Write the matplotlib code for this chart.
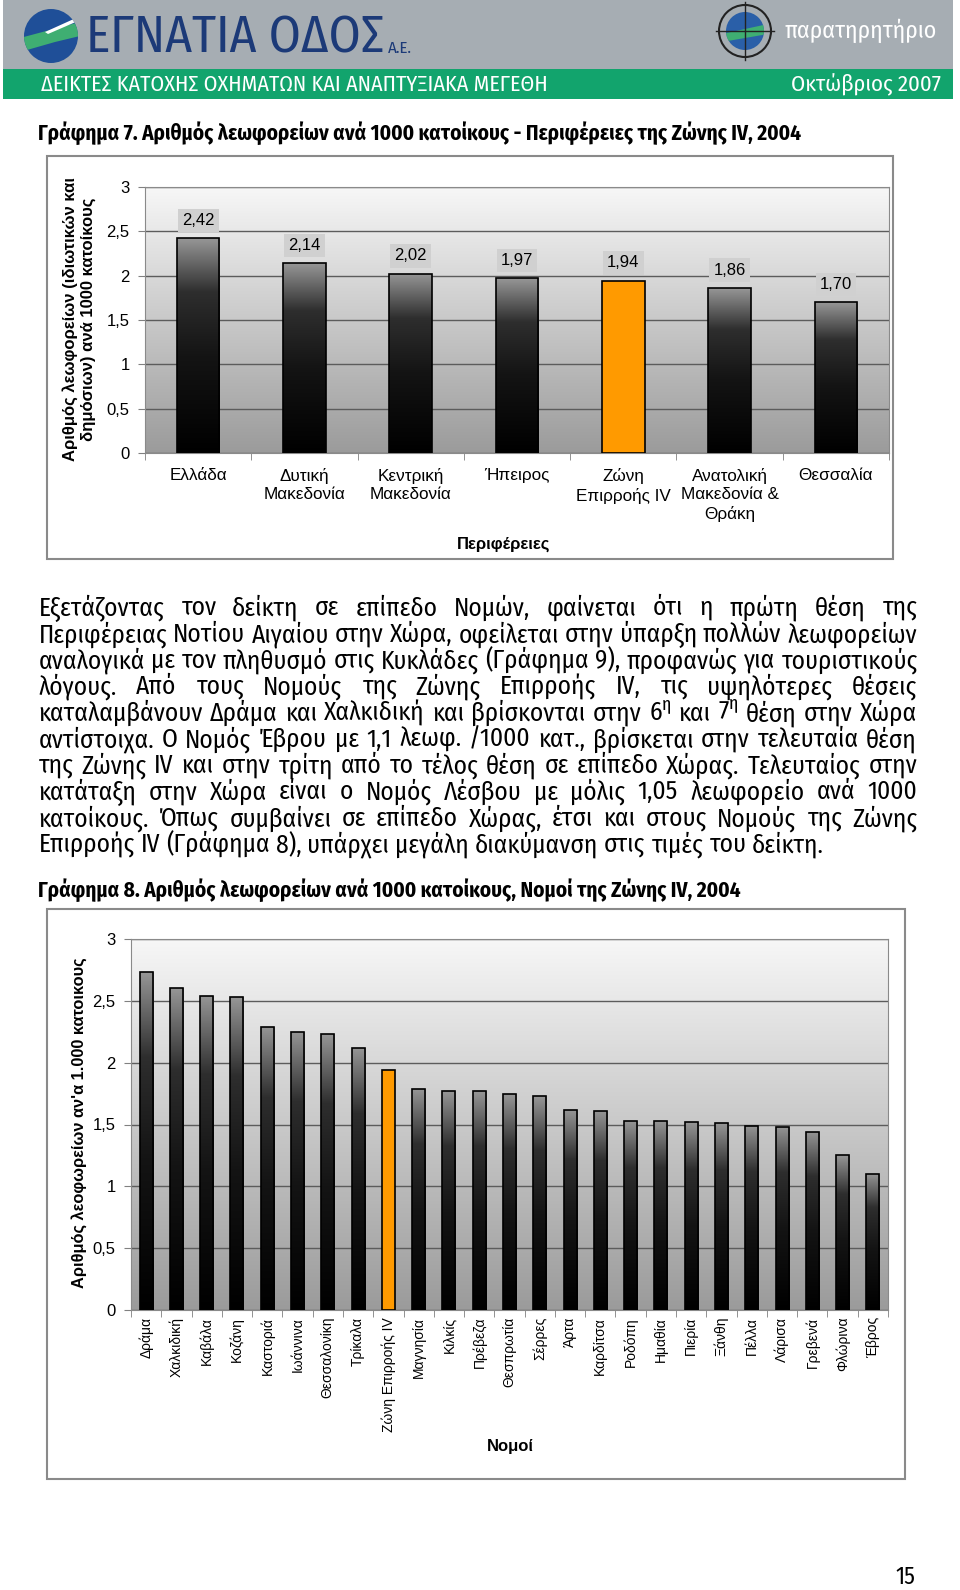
import numpy as np
import matplotlib
matplotlib.use('Agg')
import matplotlib.pyplot as plt
from matplotlib import font_manager
from matplotlib.colors import LinearSegmentedColormap
from matplotlib.patches import Rectangle, Circle, Polygon
from matplotlib.ticker import FuncFormatter

# --- data -------------------------------------------------------------
regions = ['Ελλάδα', 'Δυτική\nΜακεδονία', 'Κεντρική\nΜακεδονία', 'Ήπειρος',
           'Ζώνη\nΕπιρροής IV', 'Ανατολική\nΜακεδονία &\nΘράκη', 'Θεσσαλία']
region_vals = [2.42, 2.14, 2.02, 1.97, 1.94, 1.86, 1.70]

prefectures = ['Δράμα', 'Χαλκιδική', 'Καβάλα', 'Κοζάνη', 'Καστοριά', 'Ιωάννινα',
               'Θεσσαλονίκη', 'Τρίκαλα', 'Ζώνη Επιρροής IV', 'Μαγνησία', 'Κιλκίς',
               'Πρέβεζα', 'Θεσπρωτία', 'Σέρρες', 'Άρτα', 'Καρδίτσα', 'Ροδόπη',
               'Ημαθία', 'Πιερία', 'Ξάνθη', 'Πέλλα', 'Λάρισα', 'Γρεβενά',
               'Φλώρινα', 'Έβρος']
prefecture_vals = [2.73, 2.60, 2.54, 2.53, 2.29, 2.25, 2.23, 2.12, 1.94, 1.79,
                   1.77, 1.77, 1.745, 1.73, 1.62, 1.61, 1.53, 1.53, 1.52, 1.51,
                   1.49, 1.48, 1.44, 1.25, 1.10]
zone = ['Ζώνη\nΕπιρροής IV', 'Ζώνη Επιρροής IV']
yticks = [0, 0.5, 1, 1.5, 2, 2.5, 3]

paragraph = [
    "Εξετάζοντας τον δείκτη σε επίπεδο Νομών, φαίνεται ότι η πρώτη θέση της",
    "Περιφέρειας Νοτίου Αιγαίου στην Χώρα, οφείλεται στην ύπαρξη πολλών λεωφορείων",
    "αναλογικά με τον πληθυσμό στις Κυκλάδες (Γράφημα 9), προφανώς για τουριστικούς",
    "λόγους. Από τους Νομούς της Ζώνης Επιρροής IV, τις υψηλότερες θέσεις",
    "καταλαμβάνουν Δράμα και Χαλκιδική και βρίσκονται στην 6$^{η}$ και 7$^{η}$ θέση στην Χώρα",
    "αντίστοιχα. Ο Νομός Έβρου με 1,1 λεωφ. /1000 κατ., βρίσκεται στην τελευταία θέση",
    "της Ζώνης IV και στην τρίτη από το τέλος θέση σε επίπεδο Χώρας. Τελευταίος στην",
    "κατάταξη στην Χώρα είναι ο Νομός Λέσβου με μόλις 1,05 λεωφορείο ανά 1000",
    "κατοίκους. Όπως συμβαίνει σε επίπεδο Χώρας, έτσι και στους Νομούς της Ζώνης",
    "Επιρροής IV (Γράφημα 8), υπάρχει μεγάλη διακύμανση στις τιμές του δείκτη.",
]

# --- fonts ------------------------------------------------------------
names = {f.name for f in font_manager.fontManager.ttflist}
narrow = 'DejaVu Sans'
for cand in ['Fira Sans Condensed', 'Roboto Condensed', 'Ubuntu Condensed',
             'Open Sans Condensed', 'Liberation Sans Narrow']:
    if cand in names:
        narrow = cand
        break
NARROW = dict(family=[narrow, 'DejaVu Sans'])
ARIAL = ['Liberation Sans', 'DejaVu Sans']
plt.rcParams['font.family'] = ARIAL
plt.rcParams['mathtext.default'] = 'regular'
plt.rcParams['mathtext.fontset'] = 'custom'
plt.rcParams['mathtext.rm'] = narrow

W, H = 960, 1590
fig = plt.figure(figsize=(W / 100, H / 100), dpi=100)
renderer = fig.canvas.get_renderer()

page = fig.add_axes([0, 0, 1, 1], zorder=0)
page.set_xlim(0, W)
page.set_ylim(H, 0)
page.axis('off')


def box(x0, y0, x1, y1):
    return [x0 / W, 1 - y1 / H, (x1 - x0) / W, (y1 - y0) / H]


def text_w(s, size, **kw):
    t = fig.text(0, 0, s, fontsize=size, **kw)
    w = t.get_window_extent(renderer).width
    t.remove()
    return w


def fit_text(x, y, s, width, ha='left', **kw):
    t = fig.text(x / W, 1 - y / H, s, fontsize=12, ha=ha, va='center', **kw)
    w = t.get_window_extent(renderer).width
    t.set_fontsize(12 * width / w)
    return t


# --- header -----------------------------------------------------------
page.add_patch(Rectangle((3, 0), 950, 69, color='#a6adb3', lw=0))
page.add_patch(Rectangle((3, 69), 950, 30, color='#12a46d', lw=0))

emb = Circle((51, 36), 27, color='#1f4f98', lw=0)
page.add_patch(emb)
sw = Polygon([(20, 38), (50, 30), (80, 22), (80, 36), (55, 42), (20, 52)],
             color='#3fae72', lw=0)
page.add_patch(sw)
sw.set_clip_path(emb)
st = Polygon([(45, 32), (76, 18), (78, 21), (48, 34)], color='white', lw=0)
page.add_patch(st)
st.set_clip_path(emb)

fit_text(86, 38, 'ΕΓΝΑΤΙΑ ΟΔΟΣ', 296, color='#1c3a78', **NARROW)
fit_text(388, 48, 'Α.Ε.', 24, color='#1c3a78', **NARROW)

page.add_patch(Circle((745, 31), 26, fc='none', ec='#222222', lw=1.5))
emb2 = Circle((745, 31), 19, color='#2a5fa8', lw=0)
page.add_patch(emb2)
sw2 = Polygon([(722, 34), (768, 24), (768, 34), (722, 42)], color='#3fae72', lw=0)
page.add_patch(sw2)
sw2.set_clip_path(emb2)
page.plot([716, 774], [31, 31], color='#222222', lw=1)
page.plot([745, 745], [2, 60], color='#222222', lw=1)
fit_text(785, 31, 'παρατηρητήριο', 153, color='white', **NARROW)

fit_text(41, 85, 'ΔΕΙΚΤΕΣ ΚΑΤΟΧΗΣ ΟΧΗΜΑΤΩΝ ΚΑΙ ΑΝΑΠΤΥΞΙΑΚΑ ΜΕΓΕΘΗ', 504,
         color='white', **NARROW)
fit_text(941, 85, 'Οκτώβριος 2007', 150, ha='right', color='white', **NARROW)

fit_text(38, 133, 'Γράφημα 7. Αριθμός λεωφορείων ανά 1000 κατοίκους - '
         'Περιφέρειες της Ζώνης IV, 2004', 768, weight='bold', **NARROW)
fit_text(38, 890, 'Γράφημα 8. Αριθμός λεωφορείων ανά 1000 κατοίκους, '
         'Νομοί της Ζώνης IV, 2004', 707, weight='bold', **NARROW)
fit_text(905, 1577, '15', 20, ha='center', **NARROW)

# --- paragraph (justified) --------------------------------------------
x_left, x_right = 38.5, 917
space = text_w('a a', 10, **NARROW) - text_w('aa', 10, **NARROW)
nat = [sum(text_w(w, 10, **NARROW) for w in ln.split()) + space * (len(ln.split()) - 1)
       for ln in paragraph]
psize = 10 * (x_right - x_left) / max(nat)
for i, ln in enumerate(paragraph):
    y = 608 + i * 26.3
    words = ln.split()
    ws = [text_w(w, psize, **NARROW) for w in words]
    if i < len(paragraph) - 1:
        gap = (x_right - x_left - sum(ws)) / (len(words) - 1)
    else:
        gap = space * psize / 10
    x = x_left
    for w, wd in zip(words, ws):
        fig.text(x / W, 1 - y / H, w, fontsize=psize, va='center', **NARROW)
        x += wd + gap

# --- charts -----------------------------------------------------------
grad = np.linspace(0, 1, 256).reshape(-1, 1)
bar_cmap = LinearSegmentedColormap.from_list(
    'bar', [(0, '#000000'), (0.45, '#141414'), (0.75, '#2e2e2e'), (1, '#969696')])
bg_cmap = LinearSegmentedColormap.from_list('bg', [(0, '#9b9b9b'), (1, '#f7f7f7')])
fmt = FuncFormatter(lambda v, p: f'{v:g}'.replace('.', ','))


def bar_chart(rect, cats, vals, width):
    ax = fig.add_axes(box(*rect), zorder=1)
    x = np.arange(len(cats))
    bars = ax.bar(x, vals, width=width, facecolor='none', edgecolor='black',
                  linewidth=1.2, zorder=3)
    for b, c in zip(bars, cats):
        if c in zone:
            b.set_facecolor('#ff9a00')
        else:
            im = ax.imshow(grad, extent=[b.get_x(), b.get_x() + b.get_width(), 0, b.get_height()],
                           origin='lower', aspect='auto', cmap=bar_cmap, zorder=2.5)
            im.set_clip_path(b)
    ax.imshow(grad, extent=[0, 1, 0, 1], transform=ax.transAxes, origin='lower',
              aspect='auto', cmap=bg_cmap, zorder=0)
    ax.set_xlim(-0.5, len(cats) - 0.5)
    ax.set_ylim(0, 3)
    ax.set_yticks(yticks)
    ax.yaxis.set_major_formatter(fmt)
    ax.set_axisbelow(True)
    ax.yaxis.grid(True, color='#5c5c5c', lw=1)
    ax.set_xticks(x)
    ax.set_xticks(np.arange(len(cats) + 1) - 0.5, minor=True)
    ax.tick_params(axis='x', which='major', length=0)
    ax.tick_params(axis='x', which='minor', length=5, color='#808080')
    ax.tick_params(axis='y', length=5, color='#808080')
    for s in ax.spines.values():
        s.set_color('#8a8a8a')
    return ax, bars


# chart 1
page.add_patch(Rectangle((47, 156), 846, 403, fc='white', ec='#8a8a8a', lw=1.5))
ax1, bars1 = bar_chart((145, 187, 889, 453), regions, region_vals, 0.40)
ax1.set_xticklabels(regions, fontsize=12.3, linespacing=1.25)
ax1.tick_params(axis='x', pad=11)
ax1.tick_params(axis='y', labelsize=12, pad=6)
for b, v in zip(bars1, region_vals):
    ax1.annotate(f'{v:.2f}'.replace('.', ','), (b.get_x() + b.get_width() / 2, v),
                 xytext=(0, 13), textcoords='offset points', ha='center', va='center',
                 fontsize=12, bbox=dict(boxstyle='square,pad=0.25', fc='#d0d0d0', ec='none'))
fig.text(79 / W, 1 - 319 / H, 'Αριθμός λεωφορείων (ιδιωτικών και\nδημόσιων) ανά 1000 κατοίκους',
         rotation=90, ha='center', va='center', fontsize=12, weight='bold',
         linespacing=1.2)
fig.text(504 / W, 1 - 544 / H, 'Περιφέρειες', ha='center', va='center',
         fontsize=12, weight='bold')

# chart 2
page.add_patch(Rectangle((47, 909), 858, 570, fc='white', ec='#8a8a8a', lw=1.5))
ax2, bars2 = bar_chart((131, 939, 888, 1310), prefectures, prefecture_vals, 0.43)
ax2.set_xticklabels(prefectures, rotation=90, fontsize=10)
ax2.tick_params(axis='x', pad=5)
ax2.tick_params(axis='y', labelsize=12, pad=6)
fig.text(79 / W, 1 - 1123 / H, "Αριθμός λεοφωρείων αν'α 1.000 κατοικους",
         rotation=90, ha='center', va='center', fontsize=11.8, weight='bold')
fig.text(510 / W, 1 - 1447 / H, 'Νομοί', ha='center', va='center',
         fontsize=12, weight='bold')

fig.savefig('out.png', dpi=100)
